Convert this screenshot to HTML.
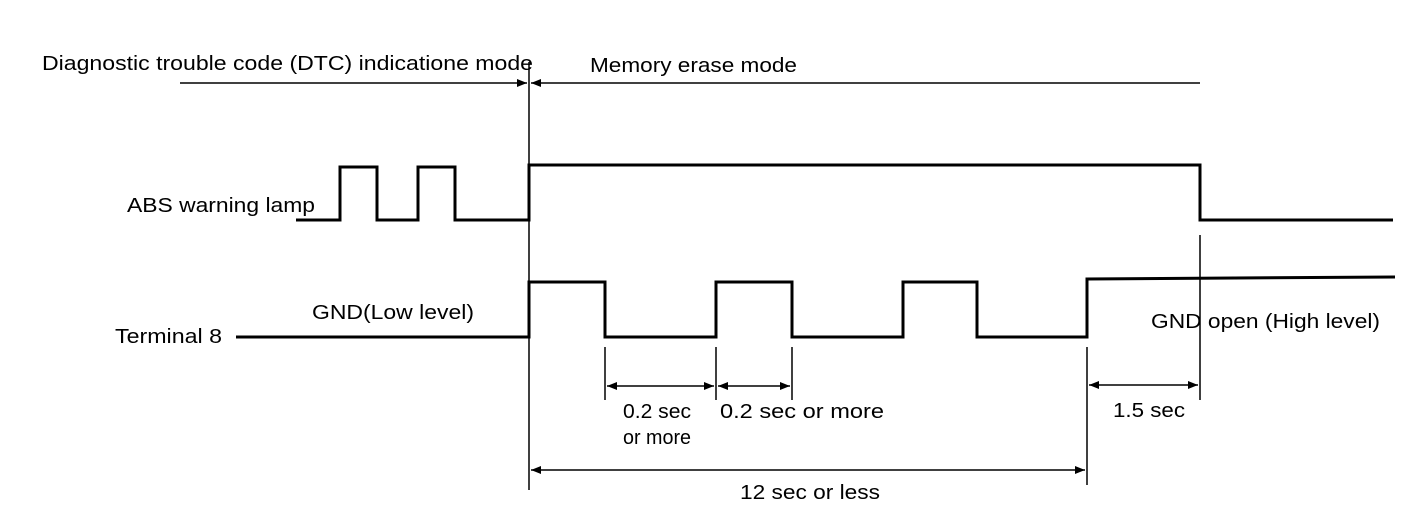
<!DOCTYPE html>
<html><head><meta charset="utf-8"><style>
html,body{margin:0;padding:0;background:#fff;}
svg{display:block;}
text{font-family:"Liberation Sans",Arial,sans-serif;font-size:20px;fill:#000;}
</style></head><body>
<svg width="1408" height="520" viewBox="0 0 1408 520" xmlns="http://www.w3.org/2000/svg">
<defs>
<marker id="a" markerWidth="10" markerHeight="8" refX="10" refY="4" orient="auto-start-reverse" markerUnits="userSpaceOnUse">
<path d="M0,0 L10,4 L0,8 Z" fill="#000"/></marker>
</defs>
<g stroke="#000" fill="none">
<line x1="180" y1="83" x2="527" y2="83" stroke-width="1.5" marker-end="url(#a)"/>
<line x1="531" y1="83" x2="1200" y2="83" stroke-width="1.5" marker-start="url(#a)"/>
<line x1="529" y1="62" x2="529" y2="490" stroke-width="1.5"/>
<line x1="605" y1="347" x2="605" y2="400" stroke-width="1.5"/>
<line x1="716" y1="347" x2="716" y2="400" stroke-width="1.5"/>
<line x1="792" y1="347" x2="792" y2="400" stroke-width="1.5"/>
<line x1="1087" y1="347" x2="1087" y2="485" stroke-width="1.5"/>
<line x1="1200" y1="235" x2="1200" y2="400" stroke-width="1.5"/>
<polyline stroke-width="3" points="296,220 340,220 340,167 377,167 377,220 418,220 418,167 455,167 455,220 529,220 529,165 1200,165 1200,220 1393,220"/>
<polyline stroke-width="3" points="236,337 529,337 529,282 605,282 605,337 716,337 716,282 792,282 792,337 903,337 903,282 977,282 977,337 1087,337 1087,279 1395,277"/>
<line x1="607" y1="386" x2="714" y2="386" stroke-width="1.5" marker-start="url(#a)" marker-end="url(#a)"/>
<line x1="718" y1="386" x2="790" y2="386" stroke-width="1.5" marker-start="url(#a)" marker-end="url(#a)"/>
<line x1="1089" y1="385" x2="1198" y2="385" stroke-width="1.5" marker-start="url(#a)" marker-end="url(#a)"/>
<line x1="531" y1="470" x2="1085" y2="470" stroke-width="1.5" marker-start="url(#a)" marker-end="url(#a)"/>
</g>
<text x="42" y="70" textLength="491" lengthAdjust="spacingAndGlyphs">Diagnostic trouble code (DTC) indicatione mode</text>
<text x="590" y="72" textLength="207" lengthAdjust="spacingAndGlyphs">Memory erase mode</text>
<text x="127" y="212" textLength="188" lengthAdjust="spacingAndGlyphs">ABS warning lamp</text>
<text x="115" y="343" textLength="107" lengthAdjust="spacingAndGlyphs">Terminal 8</text>
<text x="312" y="319" textLength="162" lengthAdjust="spacingAndGlyphs">GND(Low level)</text>
<text x="1151" y="328" textLength="229" lengthAdjust="spacingAndGlyphs">GND open (High level)</text>
<text x="623" y="418" textLength="68" lengthAdjust="spacingAndGlyphs">0.2 sec</text>
<text x="623" y="444" textLength="68" lengthAdjust="spacingAndGlyphs">or more</text>
<text x="720" y="418" textLength="164" lengthAdjust="spacingAndGlyphs">0.2 sec or more</text>
<text x="1113" y="417" textLength="72" lengthAdjust="spacingAndGlyphs">1.5 sec</text>
<text x="740" y="499" textLength="140" lengthAdjust="spacingAndGlyphs">12 sec or less</text>
</svg>
</body></html>
